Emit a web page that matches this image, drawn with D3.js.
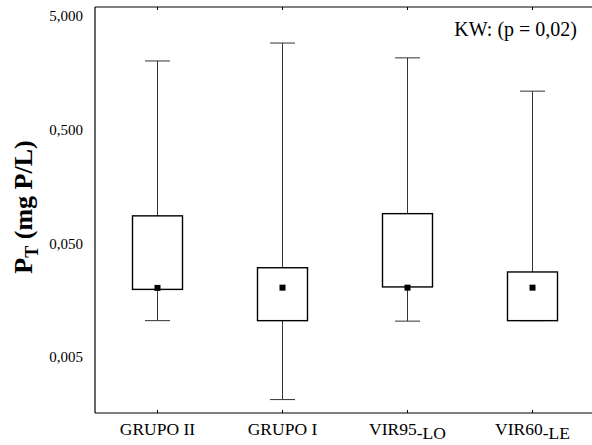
<!DOCTYPE html>
<html><head><meta charset="utf-8">
<script src="https://cdn.jsdelivr.net/npm/d3@7"></script>
<style>body{margin:0;background:#fff}svg{display:block}</style>
</head><body>
<script>
const categories = ["GRUPO II", "GRUPO I", "VIR95", "VIR60"];
const catSubs = ["", "", "-LO", "-LE"];
const whiskerHigh = [2.01, 2.89, 2.14, 1.09];
const boxHigh = [0.087, 0.0304, 0.091, 0.0279];
const medians = [0.0202, 0.0203, 0.0203, 0.0203];
const boxLow = [0.0196, 0.0104, 0.0206, 0.0104];
const whiskerLow = [0.0104, 0.0021, 0.0103, 0.0104];
const yTicks = [5, 0.5, 0.05, 0.005];
const annotation = "KW: (p = 0,02)";

const FONT = "Liberation Serif, Times New Roman, serif";
const W = 592, H = 445;
const m = {l: 95, r: -3, t: 7, b: 32};
const svg = d3.select("body").append("svg").attr("width", W).attr("height", H)
  .attr("font-family", FONT);

const x = d3.scaleBand().domain(categories).range([m.l, W - m.r]).padding(0);
const y = d3.scaleLog().domain([0.0016, 6]).range([H - m.b, m.t]);

// frame: left, top, bottom
svg.append("line").attr("x1", m.l).attr("x2", m.l).attr("y1", m.t).attr("y2", H - m.b).attr("stroke", "#000").attr("stroke-width", 1.2);
svg.append("line").attr("x1", m.l).attr("x2", W - m.r).attr("y1", m.t).attr("y2", m.t).attr("stroke", "#000").attr("stroke-width", 1.2);
svg.append("line").attr("x1", m.l).attr("x2", W - m.r).attr("y1", H - m.b).attr("y2", H - m.b).attr("stroke", "#000").attr("stroke-width", 1.2);

// y axis labels
const yAxis = d3.axisLeft(y).tickValues(yTicks).tickSize(0).tickPadding(12)
  .tickFormat(d => d3.format(".3f")(d).replace(".", ","));
const gy = svg.append("g").attr("transform", `translate(${m.l},0)`).call(yAxis)
  .attr("font-family", FONT).attr("font-size", 15);
gy.select(".domain").remove();
gy.selectAll("text").attr("fill", "#000");

// x ticks (inside) top & bottom
const centers = categories.map(c => x(c) + x.bandwidth() / 2);
categories.forEach((c, i) => {
  const cx = centers[i];
  svg.append("line").attr("x1", cx).attr("x2", cx).attr("y1", H - m.b).attr("y2", H - m.b - 3).attr("stroke", "#000");
  svg.append("line").attr("x1", cx).attr("x2", cx).attr("y1", m.t).attr("y2", m.t + 3).attr("stroke", "#000");
  const t = svg.append("text").attr("x", cx).attr("y", 435).attr("text-anchor", "middle")
    .attr("font-size", 17.5).attr("fill", "#000").text(c);
  if (catSubs[i]) t.append("tspan").attr("dy", 4).text(catSubs[i]);
});

// boxes
const bw = 50, cw = 25;
categories.forEach((c, i) => {
  const cx = centers[i];
  const g = svg.append("g");
  g.append("line").attr("x1", cx).attr("x2", cx).attr("y1", y(whiskerHigh[i])).attr("y2", y(boxHigh[i])).attr("stroke", "#333").attr("stroke-width", 1);
  g.append("line").attr("x1", cx).attr("x2", cx).attr("y1", y(boxLow[i])).attr("y2", y(whiskerLow[i])).attr("stroke", "#333").attr("stroke-width", 1);
  g.append("line").attr("x1", cx - cw / 2).attr("x2", cx + cw / 2).attr("y1", y(whiskerHigh[i])).attr("y2", y(whiskerHigh[i])).attr("stroke", "#333").attr("stroke-width", 1);
  g.append("line").attr("x1", cx - cw / 2).attr("x2", cx + cw / 2).attr("y1", y(whiskerLow[i])).attr("y2", y(whiskerLow[i])).attr("stroke", "#333").attr("stroke-width", 1);
  g.append("rect").attr("x", cx - bw / 2).attr("width", bw)
    .attr("y", y(boxHigh[i])).attr("height", y(boxLow[i]) - y(boxHigh[i]))
    .attr("fill", "#fff").attr("stroke", "#000").attr("stroke-width", 1.4);
  g.append("rect").attr("x", cx - 3).attr("y", y(medians[i]) - 3).attr("width", 6).attr("height", 6).attr("fill", "#000");
});

// annotation
svg.append("text").attr("x", 577).attr("y", 36).attr("text-anchor", "end").attr("font-size", 20).attr("fill", "#000").text(annotation);

// y title
const yt = svg.append("text").attr("transform", `translate(32,207) rotate(-90)`).attr("text-anchor", "middle")
  .attr("font-size", 26).attr("font-weight", "bold").attr("fill", "#000");
yt.append("tspan").text("P");
yt.append("tspan").attr("dy", 6).attr("font-size", 18).text("T");
yt.append("tspan").attr("dy", -6).text(" (mg P/L)");
</script>
</body></html>
